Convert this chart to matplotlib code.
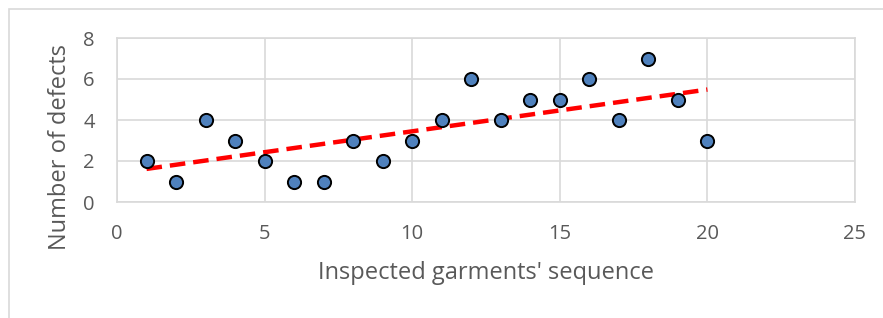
import numpy as np
import matplotlib
matplotlib.use("Agg")
import matplotlib.pyplot as plt
from matplotlib.patches import Rectangle

x = [1, 2, 3, 4, 5, 6, 7, 8, 9, 10, 11, 12, 13, 14, 15, 16, 17, 18, 19, 20]
y = [2, 1, 4, 3, 2, 1, 1, 3, 2, 3, 4, 6, 4, 5, 5, 6, 4, 7, 5, 3]
xticks = [0, 5, 10, 15, 20, 25]
yticks = [0, 2, 4, 6, 8]

plt.rcParams['font.family'] = ['Open Sans', 'DejaVu Sans']
fig = plt.figure(figsize=(8.83, 3.18), dpi=100)
fig.patches.append(Rectangle((9/883, -0.1), 1.2, 1 - 9/318 + 0.1, transform=fig.transFigure,
                             fill=False, edgecolor='#d9d9d9', linewidth=1.2))
ax = fig.add_axes([117/883, 1 - 202/318, (855 - 117)/883, (202 - 38)/318])

coef = np.polyfit(x, y, 1)
xt = np.array([min(x), max(x)])
ax.plot(xt, np.polyval(coef, xt), color='#ff0000', linewidth=3.2, linestyle=(0, (3.5, 1.8)), zorder=3)
ax.plot(x, y, linestyle='none', marker='o', markersize=9.5, markerfacecolor='#4f81bd',
        markeredgecolor='black', markeredgewidth=1.4, zorder=4)

ax.set_xlim(0, 25)
ax.set_ylim(0, 8)
ax.set_xticks(xticks)
ax.set_yticks(yticks)
ax.grid(True, color='#d9d9d9', linewidth=1.2)
ax.set_axisbelow(True)
for s in ax.spines.values():
    s.set_color('#d9d9d9')
    s.set_linewidth(1.2)
ax.tick_params(length=0, labelsize=14.5, labelcolor='#595959')
ax.tick_params(axis='x', pad=16)
ax.tick_params(axis='y', pad=16)
ax.set_xlabel("Inspected garments' sequence", fontsize=17, color='#595959')
ax.set_ylabel("Number of defects", fontsize=17, color='#595959')
ax.xaxis.label.set_va('center')
ax.yaxis.label.set_va('center')
ax.xaxis.set_label_coords(0.5, (202 - 273) / 164)
ax.yaxis.set_label_coords((60 - 117) / 738, (202 - 147.5) / 164)
fig.savefig('out.png', dpi=100)
